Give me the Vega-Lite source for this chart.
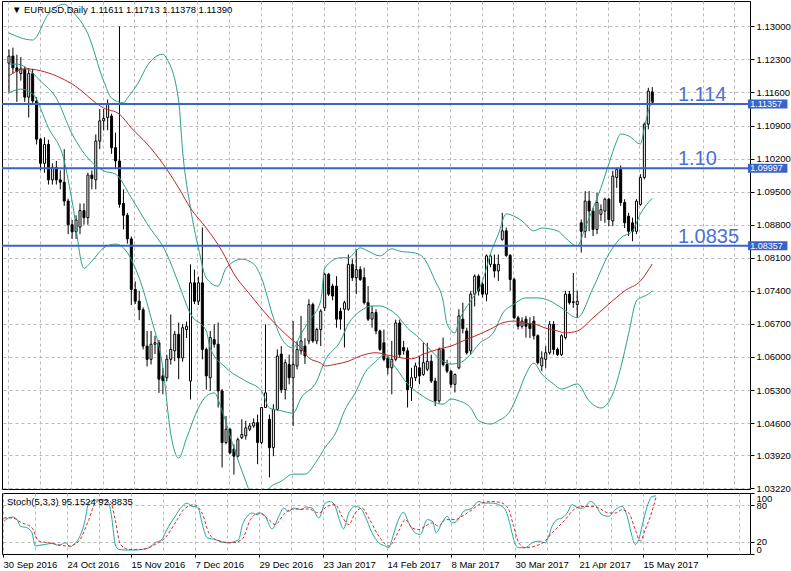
{
  "$schema": "https://vega.github.io/schema/vega-lite/v6.json",
  "padding": 0,
  "background": "white",
  "spacing": 4,
  "bounds": "flush",
  "resolve": {"scale": {"y": "independent", "color": "independent"}},
  "config": {
    "view": {"stroke": "black", "strokeWidth": 1},
    "font": "Liberation Sans",
    "axis": {"labelFont": "Liberation Sans", "labelFontSize": 9.5, "labelColor": "black", "tickColor": "black", "gridColor": "#b8b8b8", "gridDash": [3, 3], "gridWidth": 1, "domain": false, "title": null, "labelOverlap": false, "tickCount": 200}
  },
  "datasets": {
    "candles": [
      {"i":0,"o":1.1222,"h":1.1251,"l":1.1160,"c":1.1237},
      {"i":1,"o":1.1237,"h":1.1255,"l":1.1200,"c":1.1212},
      {"i":2,"o":1.1212,"h":1.1240,"l":1.1140,"c":1.1205},
      {"i":3,"o":1.1200,"h":1.1235,"l":1.1185,"c":1.1210},
      {"i":4,"o":1.1209,"h":1.1215,"l":1.1140,"c":1.1150},
      {"i":5,"o":1.1150,"h":1.1212,"l":1.1107,"c":1.1200},
      {"i":6,"o":1.1200,"h":1.1210,"l":1.1138,"c":1.1142},
      {"i":7,"o":1.1142,"h":1.1150,"l":1.1050,"c":1.1061},
      {"i":8,"o":1.1061,"h":1.1064,"l":1.0995,"c":1.1010},
      {"i":9,"o":1.1010,"h":1.1065,"l":1.0990,"c":1.1050},
      {"i":10,"o":1.1050,"h":1.1060,"l":1.0965,"c":1.0975},
      {"i":11,"o":1.0975,"h":1.1010,"l":1.0965,"c":1.1001},
      {"i":12,"o":1.1001,"h":1.1015,"l":1.0965,"c":1.0975},
      {"i":13,"o":1.0975,"h":1.0995,"l":1.0955,"c":1.0970},
      {"i":14,"o":1.0970,"h":1.1040,"l":1.0920,"c":1.0930},
      {"i":15,"o":1.0930,"h":1.0935,"l":1.0860,"c":1.0880},
      {"i":16,"o":1.0880,"h":1.0890,"l":1.0850,"c":1.0865},
      {"i":17,"o":1.0865,"h":1.0900,"l":1.0850,"c":1.0890},
      {"i":18,"o":1.0875,"h":1.0925,"l":1.0860,"c":1.0910},
      {"i":19,"o":1.0910,"h":1.0925,"l":1.0880,"c":1.0895},
      {"i":20,"o":1.0895,"h":1.0990,"l":1.0880,"c":1.0985},
      {"i":21,"o":1.0985,"h":1.0995,"l":1.0955,"c":1.0978},
      {"i":22,"o":1.0975,"h":1.1071,"l":1.0955,"c":1.1057},
      {"i":23,"o":1.1057,"h":1.1125,"l":1.1040,"c":1.1100},
      {"i":24,"o":1.1100,"h":1.1125,"l":1.1080,"c":1.1105},
      {"i":25,"o":1.1107,"h":1.1145,"l":1.1080,"c":1.1135},
      {"i":26,"o":1.1110,"h":1.1115,"l":1.1030,"c":1.1043},
      {"i":27,"o":1.1043,"h":1.1075,"l":1.1000,"c":1.1015},
      {"i":28,"o":1.1015,"h":1.1300,"l":1.0916,"c":1.0923},
      {"i":29,"o":1.0925,"h":1.0955,"l":1.0870,"c":1.0900},
      {"i":30,"o":1.0900,"h":1.0905,"l":1.0840,"c":1.0850},
      {"i":31,"o":1.0850,"h":1.0855,"l":1.0710,"c":1.0743},
      {"i":32,"o":1.0743,"h":1.0760,"l":1.0712,"c":1.0718},
      {"i":33,"o":1.0718,"h":1.0740,"l":1.0678,"c":1.0700},
      {"i":34,"o":1.0700,"h":1.0705,"l":1.0616,"c":1.0623},
      {"i":35,"o":1.0623,"h":1.0655,"l":1.0580,"c":1.0595},
      {"i":36,"o":1.0595,"h":1.0655,"l":1.0584,"c":1.0627},
      {"i":37,"o":1.0627,"h":1.0645,"l":1.0606,"c":1.0630},
      {"i":38,"o":1.0630,"h":1.0636,"l":1.0524,"c":1.0553},
      {"i":39,"o":1.0560,"h":1.0577,"l":1.0521,"c":1.0550},
      {"i":40,"o":1.0556,"h":1.0605,"l":1.0549,"c":1.0595},
      {"i":41,"o":1.0595,"h":1.0690,"l":1.0584,"c":1.0616},
      {"i":42,"o":1.0613,"h":1.0655,"l":1.0591,"c":1.0648},
      {"i":43,"o":1.0648,"h":1.0673,"l":1.0553,"c":1.0598},
      {"i":44,"o":1.0598,"h":1.0670,"l":1.0590,"c":1.0662},
      {"i":45,"o":1.0658,"h":1.0675,"l":1.0640,"c":1.0665},
      {"i":46,"o":1.0549,"h":1.0796,"l":1.0510,"c":1.0757},
      {"i":47,"o":1.0757,"h":1.0785,"l":1.0712,"c":1.0718},
      {"i":48,"o":1.0718,"h":1.0770,"l":1.0710,"c":1.0757},
      {"i":49,"o":1.0757,"h":1.0874,"l":1.0595,"c":1.0616},
      {"i":50,"o":1.0616,"h":1.0620,"l":1.0531,"c":1.0560},
      {"i":51,"o":1.0556,"h":1.0655,"l":1.0528,"c":1.0641},
      {"i":52,"o":1.0637,"h":1.0669,"l":1.0620,"c":1.0627},
      {"i":53,"o":1.0627,"h":1.0673,"l":1.0493,"c":1.0528},
      {"i":54,"o":1.0528,"h":1.0532,"l":1.0366,"c":1.0419},
      {"i":55,"o":1.0419,"h":1.0475,"l":1.0415,"c":1.0447},
      {"i":56,"o":1.0447,"h":1.0450,"l":1.0394,"c":1.0397},
      {"i":57,"o":1.0405,"h":1.0415,"l":1.0351,"c":1.0390},
      {"i":58,"o":1.0390,"h":1.0429,"l":1.0387,"c":1.0425},
      {"i":59,"o":1.0429,"h":1.0468,"l":1.0426,"c":1.0436},
      {"i":60,"o":1.0433,"h":1.0465,"l":1.0425,"c":1.0450},
      {"i":61,"o":1.0447,"h":1.0460,"l":1.0443,"c":1.0454},
      {"i":62,"o":1.0454,"h":1.0470,"l":1.0450,"c":1.0461},
      {"i":63,"o":1.0461,"h":1.0478,"l":1.0373,"c":1.0419},
      {"i":64,"o":1.0419,"h":1.0493,"l":1.0415,"c":1.0493},
      {"i":65,"o":1.0493,"h":1.0669,"l":1.0493,"c":1.0524},
      {"i":66,"o":1.0468,"h":1.0478,"l":1.0345,"c":1.0408},
      {"i":67,"o":1.0408,"h":1.0500,"l":1.0390,"c":1.0489},
      {"i":68,"o":1.0489,"h":1.0616,"l":1.0486,"c":1.0602},
      {"i":69,"o":1.0606,"h":1.0623,"l":1.0524,"c":1.0531},
      {"i":70,"o":1.0531,"h":1.0595,"l":1.0510,"c":1.0588},
      {"i":71,"o":1.0584,"h":1.0605,"l":1.0542,"c":1.0556},
      {"i":72,"o":1.0556,"h":1.0676,"l":1.0454,"c":1.0584},
      {"i":73,"o":1.0581,"h":1.0634,"l":1.0574,"c":1.0616},
      {"i":74,"o":1.0613,"h":1.0687,"l":1.0605,"c":1.0634},
      {"i":75,"o":1.0623,"h":1.0640,"l":1.0585,"c":1.0602},
      {"i":76,"o":1.0634,"h":1.0722,"l":1.0627,"c":1.0711},
      {"i":77,"o":1.0711,"h":1.0715,"l":1.0630,"c":1.0634},
      {"i":78,"o":1.0634,"h":1.0662,"l":1.0627,"c":1.0658},
      {"i":79,"o":1.0658,"h":1.0701,"l":1.0623,"c":1.0697},
      {"i":80,"o":1.0704,"h":1.0778,"l":1.0697,"c":1.0775},
      {"i":81,"o":1.0775,"h":1.0778,"l":1.0729,"c":1.0733},
      {"i":82,"o":1.0750,"h":1.0755,"l":1.0720,"c":1.0729},
      {"i":83,"o":1.0750,"h":1.0771,"l":1.0662,"c":1.0680},
      {"i":84,"o":1.0697,"h":1.0704,"l":1.0658,"c":1.0680},
      {"i":85,"o":1.0701,"h":1.0719,"l":1.0620,"c":1.0715},
      {"i":86,"o":1.0701,"h":1.0817,"l":1.0698,"c":1.0796},
      {"i":87,"o":1.0796,"h":1.0807,"l":1.0761,"c":1.0768},
      {"i":88,"o":1.0768,"h":1.0828,"l":1.0733,"c":1.0785},
      {"i":89,"o":1.0785,"h":1.0792,"l":1.0761,"c":1.0764},
      {"i":90,"o":1.0768,"h":1.0789,"l":1.0711,"c":1.0715},
      {"i":91,"o":1.0715,"h":1.0750,"l":1.0676,"c":1.0680},
      {"i":92,"o":1.0680,"h":1.0708,"l":1.0662,"c":1.0694},
      {"i":93,"o":1.0694,"h":1.0701,"l":1.0648,"c":1.0655},
      {"i":94,"o":1.0655,"h":1.0658,"l":1.0613,"c":1.0616},
      {"i":95,"o":1.0630,"h":1.0658,"l":1.0591,"c":1.0595},
      {"i":96,"o":1.0598,"h":1.0602,"l":1.0563,"c":1.0577},
      {"i":97,"o":1.0577,"h":1.0634,"l":1.0521,"c":1.0595},
      {"i":98,"o":1.0595,"h":1.0679,"l":1.0591,"c":1.0672},
      {"i":99,"o":1.0672,"h":1.0679,"l":1.0598,"c":1.0605},
      {"i":100,"o":1.0620,"h":1.0634,"l":1.0605,"c":1.0613},
      {"i":101,"o":1.0613,"h":1.0620,"l":1.0493,"c":1.0531},
      {"i":102,"o":1.0535,"h":1.0577,"l":1.0507,"c":1.0556},
      {"i":103,"o":1.0556,"h":1.0588,"l":1.0549,"c":1.0581},
      {"i":104,"o":1.0577,"h":1.0602,"l":1.0542,"c":1.0560},
      {"i":105,"o":1.0563,"h":1.0630,"l":1.0560,"c":1.0588},
      {"i":106,"o":1.0574,"h":1.0630,"l":1.0570,"c":1.0591},
      {"i":107,"o":1.0591,"h":1.0605,"l":1.0545,"c":1.0549},
      {"i":108,"o":1.0549,"h":1.0556,"l":1.0496,"c":1.0507},
      {"i":109,"o":1.0507,"h":1.0620,"l":1.0503,"c":1.0616},
      {"i":110,"o":1.0616,"h":1.0641,"l":1.0580,"c":1.0584},
      {"i":111,"o":1.0584,"h":1.0594,"l":1.0566,"c":1.0570},
      {"i":112,"o":1.0570,"h":1.0572,"l":1.0535,"c":1.0542},
      {"i":113,"o":1.0542,"h":1.0565,"l":1.0525,"c":1.0563},
      {"i":114,"o":1.0577,"h":1.0701,"l":1.0574,"c":1.0687},
      {"i":115,"o":1.0680,"h":1.0715,"l":1.0650,"c":1.0660},
      {"i":116,"o":1.0655,"h":1.0662,"l":1.0605,"c":1.0609},
      {"i":117,"o":1.0613,"h":1.0740,"l":1.0605,"c":1.0733},
      {"i":118,"o":1.0733,"h":1.0775,"l":1.0707,"c":1.0771},
      {"i":119,"o":1.0771,"h":1.0775,"l":1.0730,"c":1.0740},
      {"i":120,"o":1.0754,"h":1.0758,"l":1.0726,"c":1.0733},
      {"i":121,"o":1.0733,"h":1.0817,"l":1.0718,"c":1.0814},
      {"i":122,"o":1.0796,"h":1.0817,"l":1.0790,"c":1.0814},
      {"i":123,"o":1.0796,"h":1.0817,"l":1.0768,"c":1.0782},
      {"i":124,"o":1.0782,"h":1.0817,"l":1.0761,"c":1.0796},
      {"i":125,"o":1.0849,"h":1.0905,"l":1.0846,"c":1.0867},
      {"i":126,"o":1.0867,"h":1.0874,"l":1.0812,"c":1.0815},
      {"i":127,"o":1.0815,"h":1.0818,"l":1.0740,"c":1.0764},
      {"i":128,"o":1.0764,"h":1.0768,"l":1.0680,"c":1.0683},
      {"i":129,"o":1.0683,"h":1.0687,"l":1.0658,"c":1.0665},
      {"i":130,"o":1.0665,"h":1.0684,"l":1.0660,"c":1.0676},
      {"i":131,"o":1.0680,"h":1.0687,"l":1.0641,"c":1.0665},
      {"i":132,"o":1.0670,"h":1.0684,"l":1.0640,"c":1.0660},
      {"i":133,"o":1.0676,"h":1.0687,"l":1.0637,"c":1.0645},
      {"i":134,"o":1.0645,"h":1.0648,"l":1.0584,"c":1.0588},
      {"i":135,"o":1.0581,"h":1.0612,"l":1.0570,"c":1.0598},
      {"i":136,"o":1.0595,"h":1.0623,"l":1.0577,"c":1.0609},
      {"i":137,"o":1.0609,"h":1.0676,"l":1.0605,"c":1.0669},
      {"i":138,"o":1.0669,"h":1.0676,"l":1.0605,"c":1.0616},
      {"i":139,"o":1.0616,"h":1.0620,"l":1.0602,"c":1.0605},
      {"i":140,"o":1.0605,"h":1.0648,"l":1.0602,"c":1.0645},
      {"i":141,"o":1.0641,"h":1.0740,"l":1.0637,"c":1.0733},
      {"i":142,"o":1.0733,"h":1.0740,"l":1.0711,"c":1.0715},
      {"i":143,"o":1.0715,"h":1.0778,"l":1.0704,"c":1.0717},
      {"i":144,"o":1.0711,"h":1.0740,"l":1.0683,"c":1.0718},
      {"i":145,"o":1.0884,"h":1.0891,"l":1.0821,"c":1.0866},
      {"i":146,"o":1.0866,"h":1.0951,"l":1.0852,"c":1.0930},
      {"i":147,"o":1.0930,"h":1.0951,"l":1.0866,"c":1.0909},
      {"i":148,"o":1.0909,"h":1.0916,"l":1.0856,"c":1.0870},
      {"i":149,"o":1.0870,"h":1.0948,"l":1.0860,"c":1.0927},
      {"i":150,"o":1.0902,"h":1.0923,"l":1.0888,"c":1.0912},
      {"i":151,"o":1.0909,"h":1.0937,"l":1.0884,"c":1.0934},
      {"i":152,"o":1.0934,"h":1.0937,"l":1.0877,"c":1.0891},
      {"i":153,"o":1.0888,"h":1.0994,"l":1.0877,"c":1.0983},
      {"i":154,"o":1.0980,"h":1.1001,"l":1.0958,"c":1.0997},
      {"i":155,"o":1.0997,"h":1.1005,"l":1.0920,"c":1.0927},
      {"i":156,"o":1.0927,"h":1.0934,"l":1.0873,"c":1.0884},
      {"i":157,"o":1.0898,"h":1.0905,"l":1.0856,"c":1.0866},
      {"i":158,"o":1.0884,"h":1.0895,"l":1.0845,"c":1.0866},
      {"i":159,"o":1.0866,"h":1.0934,"l":1.0860,"c":1.0930},
      {"i":160,"o":1.0923,"h":1.0987,"l":1.0920,"c":1.0980},
      {"i":161,"o":1.0980,"h":1.1096,"l":1.0976,"c":1.1093},
      {"i":162,"o":1.1093,"h":1.1170,"l":1.1082,"c":1.1163},
      {"i":163,"o":1.11611,"h":1.11713,"l":1.11378,"c":1.11390}
    ],
    "bands": [
      {"i":0,"v":1.1286,"s":"up"},{"i":6,"v":1.1271,"s":"up"},{"i":10,"v":1.1326,"s":"up"},{"i":14,"v":1.1347,"s":"up"},{"i":16,"v":1.1332,"s":"up"},{"i":20,"v":1.1284,"s":"up"},{"i":24,"v":1.1184,"s":"up"},{"i":26,"v":1.1148,"s":"up"},{"i":29,"v":1.1138,"s":"up"},{"i":30,"v":1.1148,"s":"up"},{"i":33,"v":1.1184,"s":"up"},{"i":35,"v":1.1216,"s":"up"},{"i":39,"v":1.1241,"s":"up"},{"i":40,"v":1.1231,"s":"up"},{"i":43,"v":1.1142,"s":"up"},{"i":44,"v":1.1036,"s":"up"},{"i":46,"v":1.0915,"s":"up"},{"i":48,"v":1.0831,"s":"up"},{"i":50,"v":1.0767,"s":"up"},{"i":53,"v":1.0750,"s":"up"},{"i":55,"v":1.0788,"s":"up"},{"i":59,"v":1.0807,"s":"up"},{"i":62,"v":1.0797,"s":"up"},{"i":64,"v":1.0767,"s":"up"},{"i":67,"v":1.0683,"s":"up"},{"i":69,"v":1.0640,"s":"up"},{"i":72,"v":1.0619,"s":"up"},{"i":74,"v":1.0649,"s":"up"},{"i":76,"v":1.0676,"s":"up"},{"i":79,"v":1.0719,"s":"up"},{"i":80,"v":1.0788,"s":"up"},{"i":84,"v":1.0810,"s":"up"},{"i":86,"v":1.0810,"s":"up"},{"i":89,"v":1.0831,"s":"up"},{"i":91,"v":1.0824,"s":"up"},{"i":94,"v":1.0814,"s":"up"},{"i":97,"v":1.0829,"s":"up"},{"i":99,"v":1.0824,"s":"up"},{"i":103,"v":1.0820,"s":"up"},{"i":105,"v":1.0810,"s":"up"},{"i":108,"v":1.0761,"s":"up"},{"i":110,"v":1.0719,"s":"up"},{"i":111,"v":1.0670,"s":"up"},{"i":113,"v":1.0651,"s":"up"},{"i":114,"v":1.0676,"s":"up"},{"i":117,"v":1.0719,"s":"up"},{"i":120,"v":1.0761,"s":"up"},{"i":122,"v":1.0818,"s":"up"},{"i":124,"v":1.0860,"s":"up"},{"i":126,"v":1.0903,"s":"up"},{"i":128,"v":1.0898,"s":"up"},{"i":130,"v":1.0888,"s":"up"},{"i":133,"v":1.0867,"s":"up"},{"i":135,"v":1.0873,"s":"up"},{"i":139,"v":1.0867,"s":"up"},{"i":141,"v":1.0852,"s":"up"},{"i":144,"v":1.0835,"s":"up"},{"i":146,"v":1.0873,"s":"up"},{"i":148,"v":1.0915,"s":"up"},{"i":150,"v":1.0958,"s":"up"},{"i":152,"v":1.1009,"s":"up"},{"i":154,"v":1.1057,"s":"up"},{"i":155,"v":1.1072,"s":"up"},{"i":157,"v":1.1068,"s":"up"},{"i":160,"v":1.1051,"s":"up"},{"i":161,"v":1.1085,"s":"up"},{"i":162,"v":1.1121,"s":"up"},{"i":163,"v":1.1142,"s":"up"},
      {"i":0,"v":1.1220,"s":"mid"},{"i":2,"v":1.1220,"s":"mid"},{"i":6,"v":1.1201,"s":"mid"},{"i":8,"v":1.1184,"s":"mid"},{"i":12,"v":1.1148,"s":"mid"},{"i":16,"v":1.1072,"s":"mid"},{"i":20,"v":1.1021,"s":"mid"},{"i":24,"v":1.0994,"s":"mid"},{"i":27,"v":1.0987,"s":"mid"},{"i":31,"v":1.0937,"s":"mid"},{"i":35,"v":1.0882,"s":"mid"},{"i":40,"v":1.0818,"s":"mid"},{"i":43,"v":1.0755,"s":"mid"},{"i":46,"v":1.0691,"s":"mid"},{"i":50,"v":1.0655,"s":"mid"},{"i":51,"v":1.0619,"s":"mid"},{"i":55,"v":1.0577,"s":"mid"},{"i":60,"v":1.0549,"s":"mid"},{"i":64,"v":1.0528,"s":"mid"},{"i":66,"v":1.0492,"s":"mid"},{"i":69,"v":1.0486,"s":"mid"},{"i":72,"v":1.0481,"s":"mid"},{"i":74,"v":1.0513,"s":"mid"},{"i":78,"v":1.0549,"s":"mid"},{"i":80,"v":1.0591,"s":"mid"},{"i":84,"v":1.0634,"s":"mid"},{"i":86,"v":1.0670,"s":"mid"},{"i":89,"v":1.0697,"s":"mid"},{"i":92,"v":1.0708,"s":"mid"},{"i":94,"v":1.0708,"s":"mid"},{"i":97,"v":1.0697,"s":"mid"},{"i":98,"v":1.0691,"s":"mid"},{"i":101,"v":1.0661,"s":"mid"},{"i":104,"v":1.0640,"s":"mid"},{"i":107,"v":1.0613,"s":"mid"},{"i":110,"v":1.0591,"s":"mid"},{"i":112,"v":1.0585,"s":"mid"},{"i":114,"v":1.0587,"s":"mid"},{"i":117,"v":1.0606,"s":"mid"},{"i":119,"v":1.0627,"s":"mid"},{"i":123,"v":1.0655,"s":"mid"},{"i":125,"v":1.0691,"s":"mid"},{"i":128,"v":1.0712,"s":"mid"},{"i":131,"v":1.0725,"s":"mid"},{"i":134,"v":1.0725,"s":"mid"},{"i":137,"v":1.0719,"s":"mid"},{"i":140,"v":1.0704,"s":"mid"},{"i":144,"v":1.0683,"s":"mid"},{"i":148,"v":1.0746,"s":"mid"},{"i":152,"v":1.0818,"s":"mid"},{"i":155,"v":1.0852,"s":"mid"},{"i":158,"v":1.0867,"s":"mid"},{"i":160,"v":1.0903,"s":"mid"},{"i":163,"v":1.0936,"s":"mid"},
      {"i":0,"v":1.1159,"s":"lo"},{"i":3,"v":1.1167,"s":"lo"},{"i":6,"v":1.1157,"s":"lo"},{"i":10,"v":1.1085,"s":"lo"},{"i":14,"v":1.1015,"s":"lo"},{"i":16,"v":1.0930,"s":"lo"},{"i":19,"v":1.0788,"s":"lo"},{"i":21,"v":1.0803,"s":"lo"},{"i":24,"v":1.0831,"s":"lo"},{"i":27,"v":1.0839,"s":"lo"},{"i":29,"v":1.0831,"s":"lo"},{"i":33,"v":1.0767,"s":"lo"},{"i":36,"v":1.0683,"s":"lo"},{"i":39,"v":1.0577,"s":"lo"},{"i":41,"v":1.0437,"s":"lo"},{"i":43,"v":1.0386,"s":"lo"},{"i":45,"v":1.0428,"s":"lo"},{"i":48,"v":1.0492,"s":"lo"},{"i":50,"v":1.0517,"s":"lo"},{"i":52,"v":1.0524,"s":"lo"},{"i":54,"v":1.0486,"s":"lo"},{"i":57,"v":1.0407,"s":"lo"},{"i":60,"v":1.0337,"s":"lo"},{"i":61,"v":1.0316,"s":"lo"},{"i":64,"v":1.0300,"s":"lo"},{"i":66,"v":1.0323,"s":"lo"},{"i":69,"v":1.0337,"s":"lo"},{"i":72,"v":1.0352,"s":"lo"},{"i":75,"v":1.0352,"s":"lo"},{"i":78,"v":1.0380,"s":"lo"},{"i":80,"v":1.0407,"s":"lo"},{"i":83,"v":1.0443,"s":"lo"},{"i":85,"v":1.0486,"s":"lo"},{"i":88,"v":1.0528,"s":"lo"},{"i":90,"v":1.0564,"s":"lo"},{"i":93,"v":1.0591,"s":"lo"},{"i":95,"v":1.0604,"s":"lo"},{"i":98,"v":1.0577,"s":"lo"},{"i":101,"v":1.0543,"s":"lo"},{"i":104,"v":1.0522,"s":"lo"},{"i":107,"v":1.0507,"s":"lo"},{"i":110,"v":1.0500,"s":"lo"},{"i":112,"v":1.0511,"s":"lo"},{"i":114,"v":1.0507,"s":"lo"},{"i":117,"v":1.0492,"s":"lo"},{"i":119,"v":1.0465,"s":"lo"},{"i":122,"v":1.0458,"s":"lo"},{"i":124,"v":1.0465,"s":"lo"},{"i":127,"v":1.0486,"s":"lo"},{"i":129,"v":1.0522,"s":"lo"},{"i":131,"v":1.0564,"s":"lo"},{"i":133,"v":1.0587,"s":"lo"},{"i":135,"v":1.0564,"s":"lo"},{"i":138,"v":1.0543,"s":"lo"},{"i":140,"v":1.0532,"s":"lo"},{"i":144,"v":1.0543,"s":"lo"},{"i":147,"v":1.0507,"s":"lo"},{"i":150,"v":1.0492,"s":"lo"},{"i":153,"v":1.0522,"s":"lo"},{"i":155,"v":1.0577,"s":"lo"},{"i":157,"v":1.0649,"s":"lo"},{"i":159,"v":1.0719,"s":"lo"},{"i":160,"v":1.0725,"s":"lo"},{"i":162,"v":1.0733,"s":"lo"},{"i":163,"v":1.0740,"s":"lo"},
      {"i":0,"v":1.1195,"s":"ma"},{"i":4,"v":1.1210,"s":"ma"},{"i":12,"v":1.1195,"s":"ma"},{"i":16,"v":1.1178,"s":"ma"},{"i":24,"v":1.1127,"s":"ma"},{"i":28,"v":1.1114,"s":"ma"},{"i":31,"v":1.1085,"s":"ma"},{"i":35,"v":1.1051,"s":"ma"},{"i":39,"v":1.1009,"s":"ma"},{"i":43,"v":1.0958,"s":"ma"},{"i":46,"v":1.0915,"s":"ma"},{"i":50,"v":1.0873,"s":"ma"},{"i":54,"v":1.0824,"s":"ma"},{"i":57,"v":1.0776,"s":"ma"},{"i":61,"v":1.0733,"s":"ma"},{"i":66,"v":1.0683,"s":"ma"},{"i":70,"v":1.0649,"s":"ma"},{"i":74,"v":1.0619,"s":"ma"},{"i":76,"v":1.0598,"s":"ma"},{"i":79,"v":1.0587,"s":"ma"},{"i":80,"v":1.0581,"s":"ma"},{"i":83,"v":1.0585,"s":"ma"},{"i":86,"v":1.0591,"s":"ma"},{"i":89,"v":1.0602,"s":"ma"},{"i":93,"v":1.0609,"s":"ma"},{"i":97,"v":1.0602,"s":"ma"},{"i":102,"v":1.0596,"s":"ma"},{"i":105,"v":1.0606,"s":"ma"},{"i":109,"v":1.0617,"s":"ma"},{"i":112,"v":1.0623,"s":"ma"},{"i":115,"v":1.0634,"s":"ma"},{"i":118,"v":1.0644,"s":"ma"},{"i":122,"v":1.0659,"s":"ma"},{"i":125,"v":1.0672,"s":"ma"},{"i":128,"v":1.0676,"s":"ma"},{"i":130,"v":1.0672,"s":"ma"},{"i":133,"v":1.0670,"s":"ma"},{"i":136,"v":1.0661,"s":"ma"},{"i":139,"v":1.0655,"s":"ma"},{"i":141,"v":1.0651,"s":"ma"},{"i":144,"v":1.0655,"s":"ma"},{"i":148,"v":1.0683,"s":"ma"},{"i":152,"v":1.0712,"s":"ma"},{"i":156,"v":1.0740,"s":"ma"},{"i":160,"v":1.0761,"s":"ma"},{"i":163,"v":1.0797,"s":"ma"}
    ],
    "levels": [
      {"p":1.11357,"t":"1.114","lab":"1.11357"},
      {"p":1.09997,"t":"1.10","lab":"1.09997"},
      {"p":1.08357,"t":"1.0835","lab":"1.08357"}
    ],
    "stochMain": [
      {"i":0,"v":53.7},{"i":2,"v":60.7},{"i":3.3,"v":56.4},{"i":4.1,"v":45.5},{"i":5.8,"v":42.8},{"i":7,"v":34.7},{"i":7.8,"v":13},{"i":8.7,"v":14.1},{"i":10.3,"v":15.7},{"i":12,"v":17.3},{"i":13.7,"v":14.1},{"i":15.3,"v":18.4},{"i":16.6,"v":11.9},{"i":17.4,"v":15.7},{"i":19,"v":29.3},{"i":20.3,"v":56.4},{"i":21,"v":80.8},{"i":21.6,"v":86.2},{"i":23.7,"v":88.9},{"i":25.3,"v":87.8},{"i":26.2,"v":83.5},{"i":27,"v":56.4},{"i":27.8,"v":15.7},{"i":28.7,"v":7.6},{"i":30.3,"v":6.5},{"i":32.8,"v":6.5},{"i":34.5,"v":7.6},{"i":36.2,"v":10.3},{"i":37.8,"v":18.4},{"i":39.5,"v":23.8},{"i":40.3,"v":34.7},{"i":41.2,"v":45.5},{"i":42.8,"v":61.8},{"i":44.5,"v":78},{"i":45.8,"v":83.5},{"i":47,"v":78},{"i":47.8,"v":78},{"i":48.7,"v":72.6},{"i":49.5,"v":51},{"i":50.8,"v":26.6},{"i":52.8,"v":23.8},{"i":54.5,"v":19.5},{"i":56.2,"v":18.4},{"i":57.8,"v":21.1},{"i":58.7,"v":23.8},{"i":59.5,"v":45.5},{"i":60.8,"v":61.8},{"i":62,"v":67.2},{"i":63.3,"v":64.5},{"i":64.1,"v":67.2},{"i":65.3,"v":61.8},{"i":67,"v":41.2},{"i":68.7,"v":61.8},{"i":69.9,"v":75.3},{"i":71.2,"v":69.9},{"i":72.4,"v":75.3},{"i":74.5,"v":72.6},{"i":75.3,"v":77},{"i":77,"v":75.3},{"i":78.7,"v":59.1},{"i":80.3,"v":83.5},{"i":81.6,"v":86.2},{"i":82.8,"v":78},{"i":83.7,"v":59.1},{"i":84.9,"v":41.2},{"i":86.2,"v":67.2},{"i":87.8,"v":78},{"i":89.1,"v":75.3},{"i":90.3,"v":61.8},{"i":92,"v":34.7},{"i":93.7,"v":18.4},{"i":95.3,"v":13},{"i":96.2,"v":10.3},{"i":97,"v":23.8},{"i":98.3,"v":51},{"i":99.9,"v":68.3},{"i":101.2,"v":51},{"i":102.8,"v":34.7},{"i":104.1,"v":32},{"i":105.8,"v":56.4},{"i":107.2,"v":53},{"i":108,"v":34.7},{"i":109.5,"v":51},{"i":110.8,"v":61.8},{"i":112,"v":51},{"i":112.8,"v":52},{"i":114.1,"v":61.8},{"i":114.9,"v":69.9},{"i":117,"v":75.3},{"i":118.7,"v":86.2},{"i":119.9,"v":83.5},{"i":122,"v":83.5},{"i":123.7,"v":80.8},{"i":125.3,"v":72.6},{"i":126.2,"v":56.4},{"i":127,"v":34.7},{"i":127.8,"v":15.7},{"i":128.7,"v":10.3},{"i":130.3,"v":10.3},{"i":132,"v":18.4},{"i":133.7,"v":21.1},{"i":135.3,"v":18.4},{"i":136.2,"v":29.3},{"i":137,"v":45.5},{"i":138.3,"v":56.4},{"i":139.5,"v":59.1},{"i":140.8,"v":67.2},{"i":142,"v":80.8},{"i":143.7,"v":75.3},{"i":144.9,"v":75.3},{"i":146.6,"v":86.2},{"i":147.8,"v":80.8},{"i":149.5,"v":64.5},{"i":151.2,"v":61.8},{"i":152.8,"v":72.6},{"i":154.5,"v":78},{"i":155.8,"v":61.8},{"i":157,"v":29.3},{"i":157.8,"v":15.7},{"i":158.7,"v":23.8},{"i":159.5,"v":45.5},{"i":160.8,"v":78},{"i":162,"v":94.3},{"i":163,"v":95.2}
    ],
    "stochSig": [
      {"i":0,"v":59.1},{"i":2,"v":59.1},{"i":4.5,"v":51},{"i":7,"v":42.8},{"i":8.7,"v":21.1},{"i":11.2,"v":18.4},{"i":16.2,"v":13},{"i":18.7,"v":21.1},{"i":21.2,"v":56.4},{"i":22.8,"v":83.5},{"i":24.5,"v":88.9},{"i":26.6,"v":86.2},{"i":27.8,"v":56.4},{"i":29.1,"v":15.7},{"i":31.2,"v":7.6},{"i":34.5,"v":7.6},{"i":37.8,"v":15.7},{"i":40.3,"v":26.6},{"i":42.8,"v":51},{"i":44.9,"v":72.6},{"i":47.4,"v":80.8},{"i":49.5,"v":67.2},{"i":51.2,"v":34.7},{"i":52.8,"v":23.8},{"i":57,"v":18.4},{"i":59.5,"v":23.8},{"i":61.6,"v":56.4},{"i":63.7,"v":67.2},{"i":66.2,"v":56.4},{"i":67.8,"v":48.2},{"i":69.9,"v":64.5},{"i":72,"v":73.7},{"i":76.2,"v":73.7},{"i":78.7,"v":67.2},{"i":80.8,"v":78},{"i":82.8,"v":80.8},{"i":84.5,"v":61.8},{"i":86.2,"v":48.2},{"i":87.8,"v":67.2},{"i":89.5,"v":75.3},{"i":91.2,"v":59.1},{"i":93.7,"v":29.3},{"i":96.2,"v":13},{"i":98.7,"v":38},{"i":100.3,"v":56.4},{"i":102,"v":42.8},{"i":103.7,"v":40.1},{"i":105.3,"v":45.5},{"i":107,"v":51},{"i":108.7,"v":45.5},{"i":110.3,"v":56.4},{"i":112.8,"v":56.4},{"i":114.5,"v":61.8},{"i":117,"v":72.6},{"i":119.5,"v":83.5},{"i":122,"v":86.2},{"i":124.5,"v":83.5},{"i":126.2,"v":72.6},{"i":127.4,"v":45.5},{"i":128.7,"v":18.4},{"i":130.3,"v":10.3},{"i":132.8,"v":13},{"i":135.3,"v":21.1},{"i":137,"v":34.7},{"i":138.7,"v":45.5},{"i":140.3,"v":56.4},{"i":142.4,"v":72.6},{"i":144.5,"v":78},{"i":147,"v":78},{"i":148.7,"v":75.3},{"i":151.2,"v":67.2},{"i":152.8,"v":67.2},{"i":154.5,"v":72.6},{"i":156.2,"v":67.2},{"i":157.8,"v":40.1},{"i":159.1,"v":21.1},{"i":160.3,"v":40.1},{"i":161.6,"v":61.8},{"i":163,"v":92.9}
    ]
  },
  "vconcat": [
    {
      "width": 748,
      "height": 488,
      "layer": [
        {
          "data": {"name": "candles"},
          "mark": {"type": "rule", "color": "black", "strokeWidth": 1},
          "encoding": {
            "x": {"field": "i", "type": "quantitative", "scale": {"domain": [-0.5, 186.5], "nice": false, "zero": false},
              "axis": {"values": [-0.25, 7.75, 15.75, 23.75, 31.75, 39.75, 47.75, 55.75, 63.75, 71.75, 79.75, 87.75, 95.75, 103.75, 111.75, 119.75, 127.75, 135.75, 143.75, 151.75, 159.75, 167.75, 175.75, 183.75], "tickCount": 200, "labels": false, "ticks": false, "grid": true, "labelPadding": 0, "tickSize": 0, "minExtent": 0, "maxExtent": 0}},
            "y": {"field": "l", "type": "quantitative", "scale": {"domain": [1.03205, 1.13536], "nice": false, "zero": false},
              "axis": {"orient": "right", "values": [1.13, 1.123, 1.116, 1.109, 1.102, 1.095, 1.088, 1.081, 1.074, 1.067, 1.06, 1.053, 1.046, 1.0392, 1.0322], "tickCount": 200, "format": ".5f", "grid": true, "tickSize": 4, "labelPadding": 2, "labelOverlap": false, "labelFlush": false}},
            "y2": {"field": "h"}
          }
        },
        {
          "data": {"name": "candles"},
          "mark": {"type": "bar", "size": 2, "stroke": "black", "strokeWidth": 1},
          "encoding": {
            "x": {"field": "i", "type": "quantitative"},
            "y": {"field": "o", "type": "quantitative"},
            "y2": {"field": "c"},
            "fill": {"condition": {"test": "datum.c >= datum.o", "value": "white"}, "value": "black"}
          }
        },
        {
          "data": {"name": "bands"},
          "mark": {"type": "line", "strokeWidth": 1, "clip": true, "interpolate": "monotone"},
          "encoding": {
            "x": {"field": "i", "type": "quantitative"},
            "y": {"field": "v", "type": "quantitative"},
            "detail": {"field": "s"},
            "color": {"field": "s", "type": "nominal", "scale": {"domain": ["up", "mid", "lo", "ma"], "range": ["#2a9f8c", "#2a9f8c", "#2a9f8c", "#c42424"]}, "legend": null}
          }
        },
        {
          "data": {"name": "levels"},
          "mark": {"type": "rule", "color": "#3a62c8", "strokeWidth": 2},
          "encoding": {"y": {"field": "p", "type": "quantitative"}}
        },
        {
          "data": {"name": "levels"},
          "mark": {"type": "text", "align": "left", "baseline": "alphabetic", "dy": -3, "fontSize": 20, "color": "#4a70d8", "font": "Liberation Sans"},
          "encoding": {
            "x": {"datum": 169.5, "type": "quantitative"},
            "y": {"field": "p", "type": "quantitative"},
            "text": {"field": "t"}
          }
        },
        {
          "data": {"name": "levels"},
          "mark": {"type": "rule", "color": "#3a62c8", "strokeWidth": 9, "strokeCap": "butt"},
          "encoding": {
            "x": {"datum": 187.25, "type": "quantitative"},
            "x2": {"datum": 197.25},
            "y": {"field": "p", "type": "quantitative"}
          }
        },
        {
          "data": {"name": "levels"},
          "mark": {"type": "text", "align": "left", "baseline": "middle", "fontSize": 9, "color": "white", "font": "Liberation Sans"},
          "encoding": {
            "x": {"datum": 187.8, "type": "quantitative"},
            "y": {"field": "p", "type": "quantitative"},
            "text": {"field": "lab"}
          }
        },
        {
          "data": {"values": [{"t": "▼ EURUSD,Daily  1.11611 1.11713 1.11378 1.11390"}]},
          "mark": {"type": "text", "align": "left", "baseline": "middle", "fontSize": 9.5, "color": "black", "font": "Liberation Sans"},
          "encoding": {
            "x": {"datum": 0.75, "type": "quantitative"},
            "y": {"datum": 1.1334, "type": "quantitative"},
            "text": {"field": "t"}
          }
        }
      ]
    },
    {
      "width": 748,
      "height": 61,
      "layer": [
        {
          "data": {"name": "stochMain"},
          "mark": {"type": "line", "color": "#20a8a0", "strokeWidth": 1, "interpolate": "monotone", "clip": true},
          "encoding": {
            "x": {"field": "i", "type": "quantitative", "scale": {"domain": [-0.5, 186.5], "nice": false, "zero": false},
              "axis": {"values": [-0.25, 7.75, 15.75, 23.75, 31.75, 39.75, 47.75, 55.75, 63.75, 71.75, 79.75, 87.75, 95.75, 103.75, 111.75, 119.75, 127.75, 135.75, 143.75, 151.75, 159.75, 167.75, 175.75, 183.75], "tickCount": 200, "grid": true,
                "labelExpr": "(datum.value + 0.25) % 16 == 0 && datum.value < 170 ? ['30 Sep 2016','24 Oct 2016','15 Nov 2016','7 Dec 2016','29 Dec 2016','23 Jan 2017','14 Feb 2017','8 Mar 2017','30 Mar 2017','21 Apr 2017','15 May 2017'][(datum.value + 0.25) / 16] : ''",
                "labelAlign": "left", "labelBaseline": "top", "labelPadding": 2, "tickSize": 3, "labelOverlap": false, "labelFlush": false, "labelBound": false,
                "tickColor": {"condition": {"test": "(datum.value + 0.25) % 16 == 0", "value": "black"}, "value": "rgba(0,0,0,0)"}}},
            "y": {"field": "v", "type": "quantitative", "scale": {"domain": [0, 100], "nice": false, "zero": false},
              "axis": {"orient": "right", "values": [0, 20, 80, 100], "format": "d", "tickCount": 200, "grid": true, "gridOpacity": {"condition": {"test": "datum.value == 20 || datum.value == 80", "value": 1}, "value": 0}, "tickSize": 4, "labelPadding": 2, "labelFlush": true, "labelOverlap": false}}
          }
        },
        {
          "data": {"name": "stochSig"},
          "mark": {"type": "line", "color": "#d82828", "strokeWidth": 1, "strokeDash": [3, 2], "interpolate": "monotone", "clip": true},
          "encoding": {
            "x": {"field": "i", "type": "quantitative"},
            "y": {"field": "v", "type": "quantitative"}
          }
        },
        {
          "data": {"values": [{"t": "Stoch(5,3,3) 95.1524 92.8835"}]},
          "mark": {"type": "text", "align": "left", "baseline": "middle", "fontSize": 9.5, "color": "black", "font": "Liberation Sans"},
          "encoding": {
            "x": {"datum": 0.75, "type": "quantitative"},
            "y": {"datum": 85, "type": "quantitative"},
            "text": {"field": "t"}
          }
        }
      ]
    }
  ]
}
